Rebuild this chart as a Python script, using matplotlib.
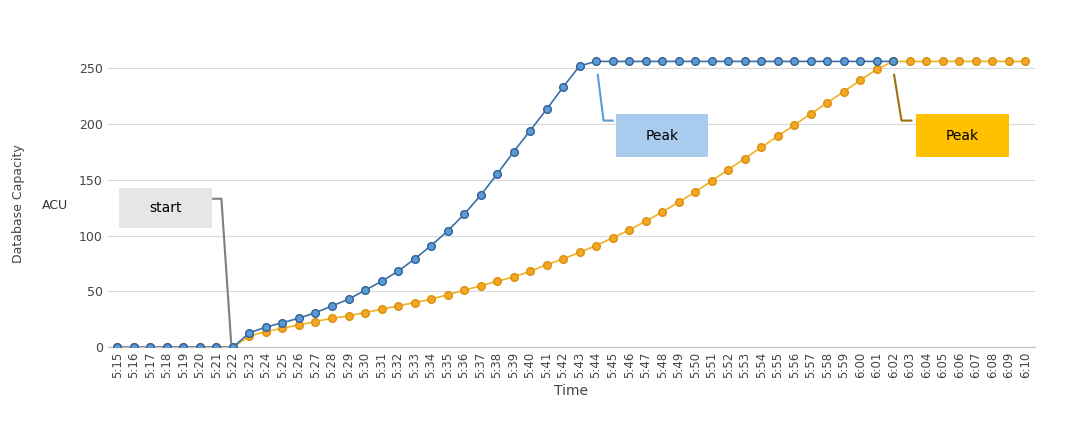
import matplotlib
matplotlib.use("Agg")
import matplotlib.pyplot as plt
from matplotlib.patches import Rectangle

times = []
for m in range(15, 71):
    h, mm = 5 + m // 60, m % 60
    times.append(f"{h}:{mm:02d}")

with_fast = [0]*8 + [13, 18, 22, 26, 31, 37, 43, 51, 59, 68, 79, 91, 104, 119, 136, 155, 175, 194, 213, 233, 252] + [256]*19
without_fast = [0]*8 + [10, 14, 17, 20, 23, 26, 28, 31, 34, 37, 40, 43, 47, 51, 55, 59, 63, 68, 74, 79, 85, 91, 98, 105, 113, 121, 130, 139, 149, 159, 169, 179, 189, 199, 209, 219, 229, 239, 249] + [256]*9

fig = plt.figure(figsize=(10.75, 4.25), dpi=100)
ax = fig.add_axes([0.1, 0.183, 0.863, 0.683])
x = list(range(len(times)))
ax.plot(x, without_fast, color="#F2B120", marker="o", ms=5.5, mfc="#F5A623", mec="#D89010", lw=1.2,
        label="without faster scaling", zorder=3)
ax.plot(x[:len(with_fast)], with_fast, color="#3B6FA8", marker="o", ms=5.5, mfc="#5B9BD5", mec="#2F5F94", lw=1.2,
        label="with faster scaling", zorder=4)
ax.set_xlim(-0.6, len(times) - 0.4)
ax.set_ylim(0, 260)
ax.set_yticks([0, 50, 100, 150, 200, 250])
ax.set_xticks(x)
ax.set_xticklabels(times, rotation=90, fontsize=8.5, color="#444")
ax.tick_params(axis="y", labelsize=9, colors="#444", length=0)
ax.tick_params(axis="x", length=0)
ax.grid(axis="y", color="#d9d9d9", lw=0.8)
for s in ["top", "right", "left"]:
    ax.spines[s].set_visible(False)
ax.spines["bottom"].set_color("#bfbfbf")
ax.set_xlabel("Time", fontsize=10, color="#444")
fig.text(0.017, 0.52, "Database Capacity", rotation=90, va="center", ha="center", fontsize=9, color="#444")
fig.text(0.051, 0.517, "ACU", va="center", ha="center", fontsize=9, color="#333")
ax.legend(loc="center", bbox_to_anchor=(0.5, 1.235), ncol=2, frameon=False, fontsize=10,
          handlelength=2.5, columnspacing=0.8, handletextpad=0.3)

def box(x0, x1, y0, y1, fc, txt):
    ax.add_patch(Rectangle((x0, y0), x1 - x0, y1 - y0, fc=fc, ec="none", zorder=2))
    ax.text((x0 + x1) / 2, (y0 + y1) / 2, txt, ha="center", va="center", fontsize=10, zorder=3)

box(0.12, 5.71, 107, 143, "#E6E6E6", "start")
ax.plot([5.8, 6.3, 6.9], [133, 133, 2], color="#7f7f7f", lw=1.5, zorder=2)
box(30.2, 35.8, 170, 209, "#A9CBEE", "Peak")
ax.plot([29.1, 29.45, 30.0], [244, 203, 203], color="#5B9BD5", lw=1.5, zorder=2)
box(48.4, 54.0, 170, 209, "#FFC000", "Peak")
ax.plot([47.05, 47.5, 48.1], [244, 203, 203], color="#A07010", lw=1.5, zorder=2)

fig.savefig("out.png", dpi=100)
